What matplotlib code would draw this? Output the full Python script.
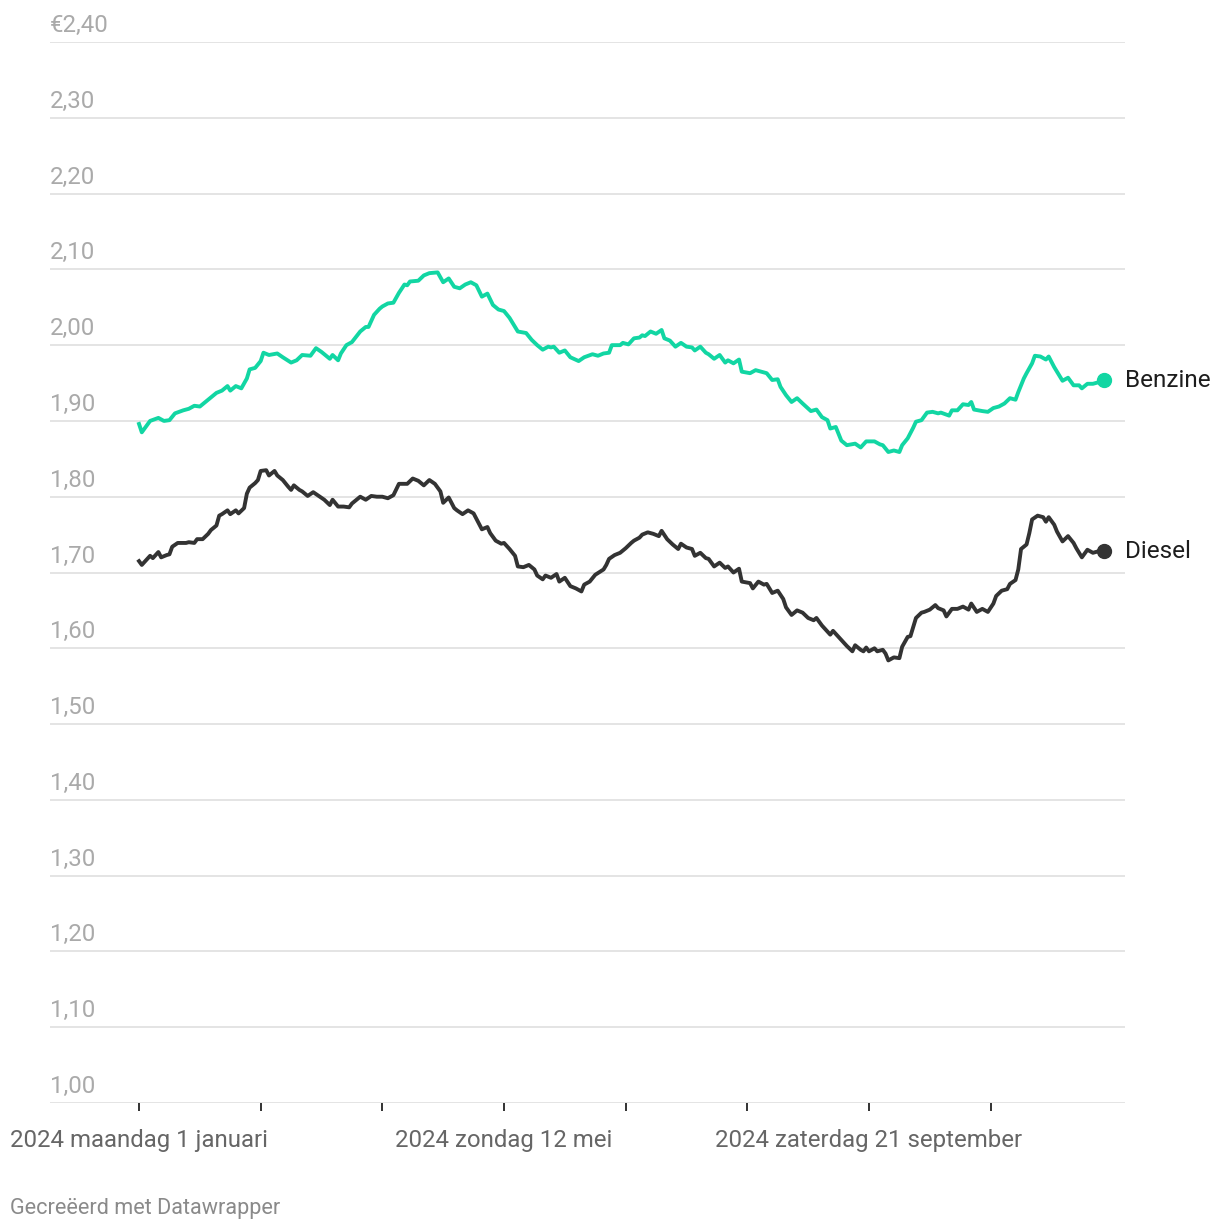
import matplotlib
matplotlib.use("Agg")
import matplotlib.pyplot as plt
import matplotlib.transforms as mtransforms
import pandas as pd
import numpy as np

# days since 1 januari 2024
benzine_days = [0, 1, 2, 4, 7, 9, 11, 13, 16, 18, 20, 22, 24, 26, 28, 30, 32, 33, 35, 37,
                39, 40, 42, 44, 45, 47, 50, 52, 55, 57, 59, 62, 64, 66, 69, 70, 72, 73, 75, 77,
                80, 82, 83, 85, 87, 88, 90, 92, 94, 96, 97, 98, 101, 103, 105, 108, 110, 112, 114, 116,
                118, 120, 122, 124, 126, 128, 130, 132, 134, 137, 140, 142, 144, 146, 148, 149, 150, 152, 154, 156,
                159, 161, 164, 166, 168, 170, 171, 173, 174, 175, 177, 179, 181, 182, 183, 185, 187, 189, 190, 192,
                194, 196, 198, 200, 201, 203, 205, 206, 208, 210, 212, 213, 215, 217, 218, 221, 223, 225, 227, 229,
                231, 232, 234, 236, 238, 240, 243, 245, 247, 249, 250, 252, 254, 256, 259, 261, 263, 266, 268, 269,
                271, 273, 275, 276, 278, 280, 281, 283, 285, 287, 289, 290, 293, 294, 296, 298, 300, 301, 302, 305,
                307, 309, 311, 313, 315, 317, 318, 320, 321, 323, 324, 326, 328, 329, 331, 332, 334, 336, 338, 340,
                341, 343, 345, 347, 349]
benzine = [1.896, 1.885, 1.890, 1.900, 1.904, 1.900, 1.901, 1.910, 1.914, 1.916, 1.920, 1.919, 1.925, 1.931, 1.937, 1.940, 1.946, 1.940, 1.946, 1.943,
           1.956, 1.968, 1.970, 1.979, 1.990, 1.987, 1.989, 1.984, 1.977, 1.980, 1.987, 1.986, 1.996, 1.991, 1.982, 1.987, 1.980, 1.989, 2.000, 2.004,
           2.018, 2.024, 2.024, 2.040, 2.048, 2.051, 2.055, 2.056, 2.069, 2.080, 2.079, 2.084, 2.085, 2.092, 2.095, 2.096, 2.083, 2.088, 2.077, 2.075,
           2.080, 2.083, 2.079, 2.064, 2.068, 2.053, 2.047, 2.045, 2.036, 2.018, 2.016, 2.007, 2.000, 1.994, 1.998, 1.997, 1.998, 1.990, 1.993, 1.984,
           1.979, 1.984, 1.988, 1.986, 1.989, 1.990, 2.000, 2.000, 2.000, 2.003, 2.001, 2.009, 2.010, 2.013, 2.012, 2.018, 2.015, 2.020, 2.009, 2.006,
           1.998, 2.003, 1.998, 1.997, 1.993, 1.998, 1.990, 1.988, 1.982, 1.987, 1.977, 1.980, 1.976, 1.981, 1.965, 1.963, 1.967, 1.965, 1.963, 1.954,
           1.955, 1.945, 1.934, 1.925, 1.930, 1.923, 1.913, 1.915, 1.905, 1.901, 1.890, 1.892, 1.874, 1.868, 1.870, 1.865, 1.873, 1.873, 1.869, 1.868,
           1.859, 1.861, 1.859, 1.868, 1.877, 1.891, 1.899, 1.901, 1.911, 1.912, 1.910, 1.911, 1.907, 1.914, 1.914, 1.922, 1.921, 1.925, 1.915, 1.913,
           1.912, 1.917, 1.919, 1.923, 1.930, 1.928, 1.938, 1.956, 1.963, 1.976, 1.986, 1.985, 1.981, 1.985, 1.971, 1.965, 1.953, 1.957, 1.947, 1.947,
           1.943, 1.949, 1.949, 1.951, 1.954]

diesel_days = [0, 1, 3, 4, 5, 7, 8, 10, 11, 12, 14, 17, 18, 20, 21, 23, 25, 26, 28, 29,
               30, 32, 33, 35, 36, 38, 39, 40, 42, 43, 44, 46, 47, 49, 50, 52, 54, 55, 56, 58,
               59, 61, 63, 65, 67, 69, 70, 72, 74, 76, 77, 80, 81, 82, 84, 86, 88, 90, 92, 94,
               96, 97, 99, 101, 102, 103, 105, 107, 109, 110, 112, 114, 115, 117, 119, 121, 122, 124, 126, 127,
               129, 131, 132, 134, 136, 137, 139, 141, 143, 144, 146, 147, 149, 151, 152, 154, 156, 158, 160, 161,
               163, 165, 168, 169, 170, 172, 174, 176, 178, 179, 181, 182, 184, 186, 188, 189, 191, 193, 195, 196,
               198, 200, 201, 203, 205, 206, 208, 210, 212, 213, 215, 217, 218, 221, 222, 224, 226, 227, 229, 231,
               233, 234, 236, 238, 240, 242, 244, 245, 247, 250, 251, 253, 255, 256, 258, 259, 261, 262, 263, 264,
               266, 267, 269, 270, 271, 273, 275, 276, 278, 279, 281, 283, 284, 286, 288, 289, 291, 292, 294, 296,
               298, 300, 301, 303, 305, 307, 309, 310, 312, 314, 315, 317, 318, 319, 321, 322, 323, 325, 327, 328,
               329, 331, 332, 334, 336, 338, 339, 341, 343, 345, 347, 349]
diesel = [1.715, 1.710, 1.718, 1.722, 1.719, 1.727, 1.720, 1.723, 1.724, 1.734, 1.739, 1.739, 1.740, 1.739, 1.744, 1.744, 1.751, 1.756, 1.762, 1.775,
          1.777, 1.782, 1.777, 1.782, 1.778, 1.785, 1.804, 1.812, 1.818, 1.822, 1.834, 1.835, 1.828, 1.834, 1.828, 1.822, 1.813, 1.809, 1.815, 1.809,
          1.807, 1.801, 1.806, 1.801, 1.796, 1.789, 1.796, 1.787, 1.787, 1.786, 1.791, 1.800, 1.798, 1.796, 1.801, 1.800, 1.800, 1.798, 1.802, 1.817,
          1.817, 1.817, 1.824, 1.821, 1.818, 1.815, 1.822, 1.817, 1.807, 1.792, 1.799, 1.785, 1.782, 1.777, 1.782, 1.778, 1.771, 1.757, 1.760, 1.752,
          1.742, 1.738, 1.739, 1.731, 1.722, 1.708, 1.707, 1.710, 1.704, 1.696, 1.691, 1.696, 1.693, 1.698, 1.688, 1.693, 1.682, 1.679, 1.675, 1.684,
          1.688, 1.697, 1.704, 1.710, 1.718, 1.723, 1.726, 1.732, 1.739, 1.742, 1.746, 1.750, 1.753, 1.751, 1.748, 1.755, 1.744, 1.737, 1.731, 1.738,
          1.733, 1.731, 1.722, 1.726, 1.719, 1.718, 1.708, 1.713, 1.706, 1.708, 1.700, 1.705, 1.688, 1.686, 1.679, 1.688, 1.684, 1.685, 1.673, 1.676,
          1.665, 1.654, 1.644, 1.650, 1.647, 1.640, 1.637, 1.640, 1.630, 1.618, 1.623, 1.615, 1.607, 1.603, 1.596, 1.604, 1.598, 1.596, 1.601, 1.596,
          1.600, 1.596, 1.598, 1.593, 1.584, 1.588, 1.587, 1.602, 1.615, 1.616, 1.640, 1.647, 1.648, 1.651, 1.657, 1.653, 1.650, 1.642, 1.652, 1.652,
          1.655, 1.651, 1.659, 1.648, 1.652, 1.648, 1.659, 1.669, 1.676, 1.678, 1.685, 1.690, 1.704, 1.731, 1.737, 1.752, 1.770, 1.775, 1.773, 1.767,
          1.773, 1.763, 1.754, 1.741, 1.748, 1.739, 1.732, 1.720, 1.730, 1.726, 1.728, 1.728]

y_ticks = [1.0, 1.1, 1.2, 1.3, 1.4, 1.5, 1.6, 1.7, 1.8, 1.9, 2.0, 2.1, 2.2, 2.3, 2.4]
x_tick_days = [0, 44, 88, 132, 176, 220, 264, 308]
x_tick_labels = ["2024 maandag 1 januari", "", "", "2024 zondag 12 mei", "", "", "2024 zaterdag 21 september", ""]

plt.rcParams['font.family'] = ['Roboto', 'DejaVu Sans']

start = pd.Timestamp("2024-01-01")
to_date = lambda d: start + pd.to_timedelta(np.asarray(d), unit="D")

W, H = 1220, 1230
fig = plt.figure(figsize=(W / 100, H / 100), dpi=100)
ax = fig.add_axes([50 / W, (H - 1103) / H, 1075 / W, 1061 / H])

green = "#12d6a3"
dark = "#333333"

ax.plot(to_date(benzine_days), benzine, color=green, lw=2.8, solid_joinstyle="round", zorder=3)
ax.plot(to_date(diesel_days), diesel, color=dark, lw=2.8, solid_joinstyle="round", zorder=3)
ax.plot(to_date([benzine_days[-1]]), [benzine[-1]], "o", color=green, ms=10, zorder=4)
ax.plot(to_date([diesel_days[-1]]), [diesel[-1]], "o", color=dark, ms=10, zorder=4)

for name, days, vals in [("Benzine", benzine_days, benzine), ("Diesel", diesel_days, diesel)]:
    ax.annotate(name, (to_date([days[-1]])[0], vals[-1]), xytext=(15, 0),
                textcoords="offset points", va="center", ha="left", fontsize=17.5,
                color="#1d1d1d", annotation_clip=False)

ax.set_xlim(to_date([-32.2])[0], to_date([356.6])[0])
ax.set_ylim(1.0, 2.4)

# horizontal gridlines with labels sitting on top, Datawrapper style
label_tr = ax.get_yaxis_transform() + mtransforms.ScaledTranslation(0, 10 / 100, fig.dpi_scale_trans)
for v in y_ticks:
    ax.axhline(v, color="#e2e2e2", lw=1.3, zorder=1)
    lab = f"{v:.2f}".replace(".", ",")
    if v == y_ticks[-1]:
        lab = "€" + lab
    ax.text(0, v, lab, transform=label_tr, ha="left", va="baseline",
            fontsize=17.3, color="#aaaaaa")

ax.set_yticks([])
ax.set_xticks(to_date(x_tick_days))
ax.set_xticklabels(x_tick_labels)
ax.tick_params(axis="x", length=6, width=1.3, color="#222222", pad=13,
               labelsize=17.3, labelcolor="#666666")
for s in ax.spines.values():
    s.set_visible(False)

fig.text(10 / W, 1 - 1214 / H, "Gecreëerd met Datawrapper", ha="left", va="baseline",
         fontsize=15.6, color="#8a8a8a")

fig.savefig("out.png", dpi=100, facecolor="white")
